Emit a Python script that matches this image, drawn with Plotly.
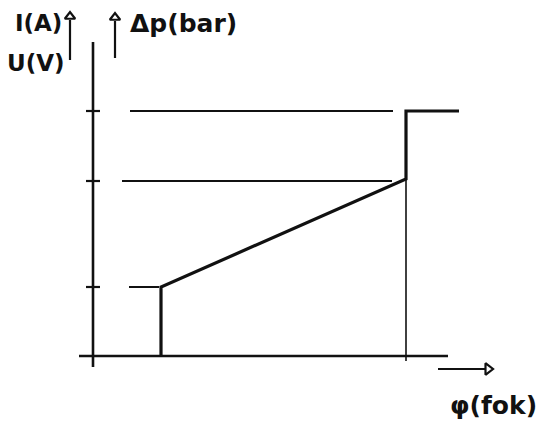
import plotly.graph_objects as go

# Data (sketch units: origin at the axes crossing)
level_labels = ["low", "mid", "high"]
levels = [6.9, 17.5, 24.5]                 # y tick levels
curve_x = [6.8, 6.8, 31.3, 31.3, 36.6]     # bold characteristic
curve_y = [0.0, 6.9, 17.7, 24.5, 24.5]
ref_x0 = [3.6, 2.9, 3.7]                   # reference line starts (per level)
ref_x1 = [6.6, 29.9, 30.0]                 # reference line ends
drop_x = 31.3                              # thin vertical at break point
drop_top = 18.9

fig = go.Figure()
black = "#111"

def seg(xs, ys, w):
    fig.add_trace(go.Scatter(x=xs, y=ys, mode="lines",
                             line=dict(color=black, width=w),
                             hoverinfo="skip", showlegend=False))

# axes
seg([0, 0], [-1.1, 31.4], 2.6)
seg([-1.4, 35.5], [0, 0], 2.6)
# y ticks
for lv in levels:
    seg([-0.7, 0.7], [lv, lv], 2.2)
# x tick + thin vertical
seg([drop_x, drop_x], [-0.5, drop_top], 1.6)
# reference lines
for x0, x1, lv in zip(ref_x0, ref_x1, levels):
    seg([x0, x1], [lv, lv], 2.0)
# bold curve
seg(curve_x, curve_y, 3.2)

# arrows (top-left)
for ax_x, y0, y1 in [(-2.3, 29.6, 33.6), (2.2, 29.8, 33.5)]:
    seg([ax_x, ax_x], [y0, y1], 2.2)
    fig.add_trace(go.Scatter(x=[ax_x], y=[y1 + 0.35], mode="markers",
                             marker=dict(symbol="triangle-up-open", size=9,
                                         color=black, line=dict(width=2.2, color=black)),
                             hoverinfo="skip", showlegend=False))
# x arrow
seg([34.5, 39.2], [-1.3, -1.3], 2.2)
fig.add_trace(go.Scatter(x=[39.5], y=[-1.3], mode="markers",
                         marker=dict(symbol="triangle-right-open", size=10,
                                     color=black, line=dict(width=2.2, color=black)),
                         hoverinfo="skip", showlegend=False))

texts = [("<b>I(A)</b>", -5.5, 33.3, 23), ("<b>U(V)</b>", -5.7, 29.3, 23),
         ("<b>Δp(bar)</b>", 9.0, 33.3, 25), ("<b>φ(fok)</b>", 40.0, -4.9, 25)]
for t, x, y, s in texts:
    fig.add_annotation(x=x, y=y, text=t, showarrow=False,
                       font=dict(family="DejaVu Sans", size=s, color=black),
                       xanchor="center", yanchor="middle")

# page body adds an 8px offset; ranges compensate so marks land as in the sketch
fig.update_layout(width=547, height=430, margin=dict(l=0, r=0, t=0, b=0),
                  paper_bgcolor="white", plot_bgcolor="white",
                  xaxis=dict(range=[-8.5, 46.2], visible=False, fixedrange=True),
                  yaxis=dict(range=[-8.2, 34.8], visible=False, fixedrange=True))
fig.write_html("out.html")
